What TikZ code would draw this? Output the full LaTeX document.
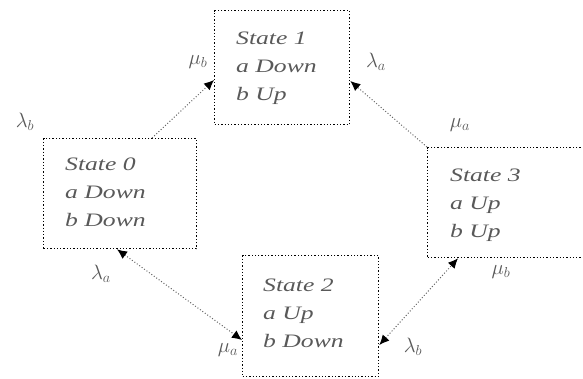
\documentclass[tikz,border=0pt]{standalone}
\usepackage{fontspec}
\newfontfamily\statefont[FakeStretch=1.35]{Liberation Serif}
\usetikzlibrary{arrows.meta,calc}
\begin{document}
\begin{tikzpicture}[x=1pt,y=-1pt,
  statebox/.style={draw=black, line width=1.3pt, dotted, anchor=north west, inner sep=0pt},
  statetext/.style={anchor=base west, align=left, text=black!65, inner sep=0pt,
    font=\statefont\itshape\fontsize{19}{28}\selectfont},
  conn/.style={draw=black!60, line width=1pt, dotted},
  rate/.style={text=black!65, inner sep=0pt, font=\fontsize{20}{24}\selectfont},
  >={Latex[length=10pt,width=9pt,color=black]}]
\useasboundingbox (0,0) rectangle (583,378);
\clip (0,0) rectangle (583,378);

% the four states
\node[statebox, minimum width=135pt, minimum height=114pt] (s1) at (214,10) {};
\node[statebox, minimum width=153pt, minimum height=110pt] (s0) at (43,138) {};
\node[statebox, minimum width=136pt, minimum height=121pt] (s2) at (242,255) {};
\node[statebox, minimum width=170pt, minimum height=110pt] (s3) at (427,147) {};

% state labels (anchored on the baseline of the last line)
\node[statetext] (t1) at ([shift={(22pt,-90pt)}]s1.north west) {State 1\\a Down\\b Up};
\node[statetext] (t0) at ([shift={(22pt,-88pt)}]s0.north west) {State 0\\a Down\\b Down};
\node[statetext] (t2) at ([shift={(21pt,-92pt)}]s2.north west) {State 2\\a Up\\b Down};
\node[statetext] (t3) at ([shift={(23pt,-90pt)}]s3.north west) {State 3\\a Up\\b Up};

% transitions
\draw[conn, ->] ([xshift=109pt]s0.north west) -- ([yshift=-70pt]s1.north west);
\draw[conn, ->] (s3.north west) -- ([yshift=-71pt]s1.north east);
\draw[conn, <->] ([xshift=74pt]s0.south west) -- ([yshift=-85pt]s2.north west);
\draw[conn, <->] ([yshift=-90pt]s2.north east) -- ([xshift=31pt]s3.south west);

% transition rates
\node[rate] (l1) at (25,122) {$\lambda_b$};
\node[rate] (m1) at (198,62) {$\mu_b$};
\node[rate] (l2) at (376,62) {$\lambda_a$};
\node[rate] (m2) at (460,125) {$\mu_a$};
\node[rate] (l3) at (101,274) {$\lambda_a$};
\node[rate] (m3) at (228,350) {$\mu_a$};
\node[rate] (l4) at (413,347) {$\lambda_b$};
\node[rate] (m4) at (501,272) {$\mu_b$};
\end{tikzpicture}
\end{document}
